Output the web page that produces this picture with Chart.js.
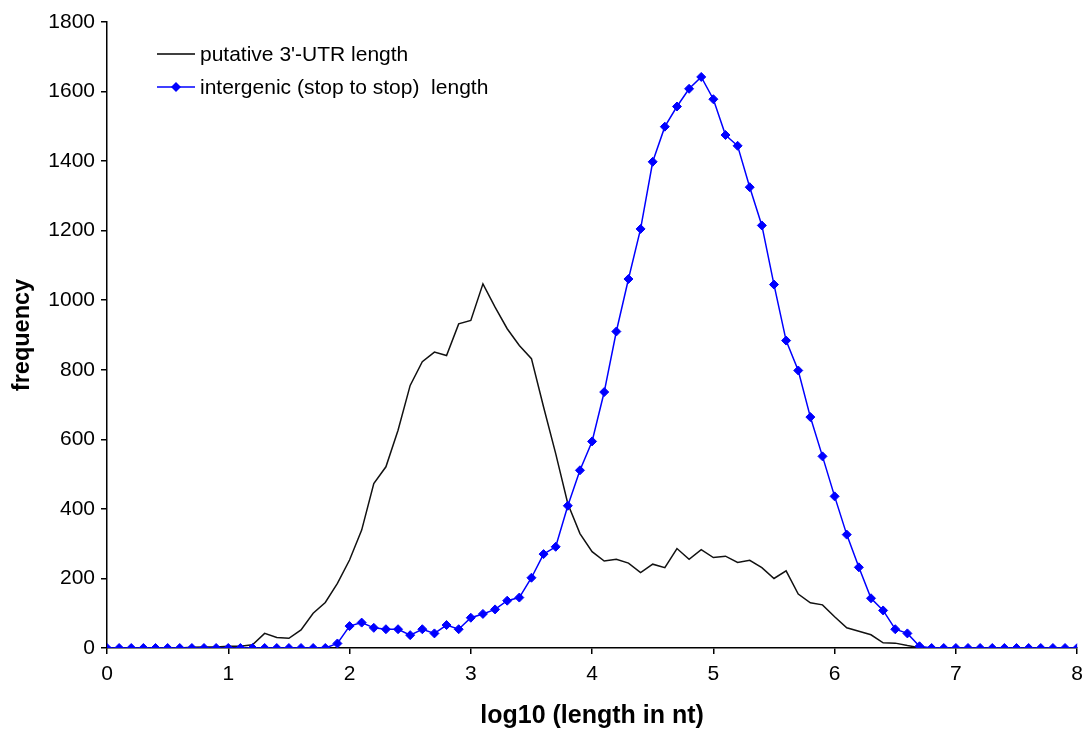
<!DOCTYPE html>
<html>
<head>
<meta charset="utf-8">
<script src="https://cdn.jsdelivr.net/npm/chart.js@4.4.1/dist/chart.umd.min.js"></script>
<style>
  body { margin: 0; background: #fff; }
  canvas { display: block; }
</style>
</head>
<body>
<canvas id="lenChart" width="1091" height="732"></canvas>
<script>
// bin centres on the log10 axis
var binCenters = [
  0.0, 0.1, 0.2, 0.3, 0.4, 0.5, 0.6, 0.7, 0.8, 0.9,
  1.0, 1.1, 1.2, 1.3, 1.4, 1.5, 1.6, 1.7, 1.8, 1.9,
  2.0, 2.1, 2.2, 2.3, 2.4, 2.5, 2.6, 2.7, 2.8, 2.9,
  3.0, 3.1, 3.2, 3.3, 3.4, 3.5, 3.6, 3.7, 3.8, 3.9,
  4.0, 4.1, 4.2, 4.3, 4.4, 4.5, 4.6, 4.7, 4.8, 4.9,
  5.0, 5.1, 5.2, 5.3, 5.4, 5.5, 5.6, 5.7, 5.8, 5.9,
  6.0, 6.1, 6.2, 6.3, 6.4, 6.5, 6.6, 6.7, 6.8, 6.9,
  7.0, 7.1, 7.2, 7.3, 7.4, 7.5, 7.6, 7.7, 7.8, 7.9,
  8.0
];

// putative 3'-UTR length
var utrFreq = [
  0, 0, 0, 0, 0, 0, 0, 2, 3, 3,
  5, 5, 9, 42, 30, 28, 52, 100, 131, 186,
  253, 339, 473, 521, 626, 755, 823, 851, 841, 932,
  942, 1047, 980, 918, 870, 832, 693, 559, 415, 329,
  277, 250, 255, 244, 217, 241, 231, 286, 255, 283,
  260, 264, 246, 252, 231, 200, 222, 155, 130, 124,
  90, 58, 48, 38, 15, 14, 7, 1, 0, 0,
  0, 0, 0, 0, 0, 0, 0, 0, 0, 0,
  0
];

// intergenic (stop to stop) length
var interFreq = [
  0, 0, 0, 0, 0, 0, 0, 0, 0, 0,
  0, 0, 0, 0, 0, 0, 0, 0, 0, 13,
  63, 73, 58, 54, 54, 37, 54, 42, 66, 54,
  87, 98, 111, 136, 145, 202, 270, 291, 409, 511,
  594, 736, 910, 1061, 1205, 1398, 1499, 1557, 1608, 1642,
  1578, 1475, 1444, 1325, 1215, 1045, 884, 798, 664, 551,
  436, 326, 232, 143, 108, 54, 42, 5, 0, 0,
  0, 0, 0, 0, 0, 0, 0, 0, 0, 0,
  0
];

var seriesNames = ["putative 3'-UTR length", "intergenic (stop to stop)  length"];

function toPoints(ys) {
  return binCenters.map(function (x, i) { return { x: x, y: ys[i] }; });
}

Chart.defaults.font.family = "'Liberation Sans', Arial, sans-serif";
Chart.defaults.color = '#000';

// excel style legend inside the plot
var boxLegend = {
  id: 'boxLegend',
  afterDraw: function (chart) {
    var ctx = chart.ctx;
    var rows = [
      { y: 54, color: '#000', marker: false },
      { y: 87, color: '#0000ff', marker: true }
    ];
    ctx.save();
    ctx.font = "21px 'Liberation Sans', Arial, sans-serif";
    ctx.textBaseline = 'middle';
    rows.forEach(function (r, i) {
      ctx.strokeStyle = r.color;
      ctx.lineWidth = 1.5;
      ctx.beginPath();
      ctx.moveTo(157, r.y);
      ctx.lineTo(195, r.y);
      ctx.stroke();
      if (r.marker) {
        ctx.fillStyle = r.color;
        ctx.beginPath();
        ctx.moveTo(176, r.y - 5);
        ctx.lineTo(181, r.y);
        ctx.lineTo(176, r.y + 5);
        ctx.lineTo(171, r.y);
        ctx.closePath();
        ctx.fill();
      }
      ctx.fillStyle = '#000';
      ctx.fillText(seriesNames[i], 200, r.y + 1);
    });
    ctx.restore();
  }
};

var ctx = document.getElementById('lenChart').getContext('2d');
var lenChart = new Chart(ctx, {
  type: 'line',
  data: {
    datasets: [
      {
        label: seriesNames[0],
        data: toPoints(utrFreq),
        borderColor: '#111',
        borderWidth: 1.5,
        pointRadius: 0,
        tension: 0,
        order: 2
      },
      {
        label: seriesNames[1],
        data: toPoints(interFreq),
        borderColor: '#0000ff',
        backgroundColor: '#0000ff',
        borderWidth: 1.5,
        pointStyle: 'rectRot',
        pointRadius: 4.5,
        pointBorderWidth: 1,
        tension: 0,
        order: 1
      }
    ]
  },
  options: {
    responsive: false,
    animation: false,
    layout: { padding: { top: 22, right: 10, left: 0, bottom: 0 } },
    plugins: {
      legend: { display: false },
      tooltip: { enabled: false }
    },
    scales: {
      x: {
        type: 'linear',
        min: 0,
        max: 8,
        ticks: {
          stepSize: 1, font: { size: 21 }, padding: 8, maxRotation: 0,
          callback: function (v) { return String(v); }
        },
        grid: { drawOnChartArea: false, tickLength: 6, color: '#000', lineWidth: 1.5 },
        border: { color: '#000', width: 1.5 },
        title: {
          display: true,
          text: 'log10 (length in nt)',
          font: { size: 25, weight: 'bold' },
          padding: { top: 0, bottom: 1 }
        },
        afterFit: function (s) { s.height = 84; }
      },
      y: {
        min: 0,
        max: 1800,
        ticks: {
          stepSize: 200, font: { size: 21 }, padding: 6,
          callback: function (v) { return String(v); }
        },
        grid: { drawOnChartArea: false, tickLength: 6, color: '#000', lineWidth: 1.5 },
        border: { color: '#000', width: 1.5 },
        title: {
          display: true,
          text: 'frequency',
          font: { size: 23.5, weight: 'bold' },
          padding: { top: 8, bottom: 0 }
        },
        afterFit: function (s) { s.width = 107; }
      }
    }
  },
  plugins: [boxLegend]
});
</script>
</body>
</html>
